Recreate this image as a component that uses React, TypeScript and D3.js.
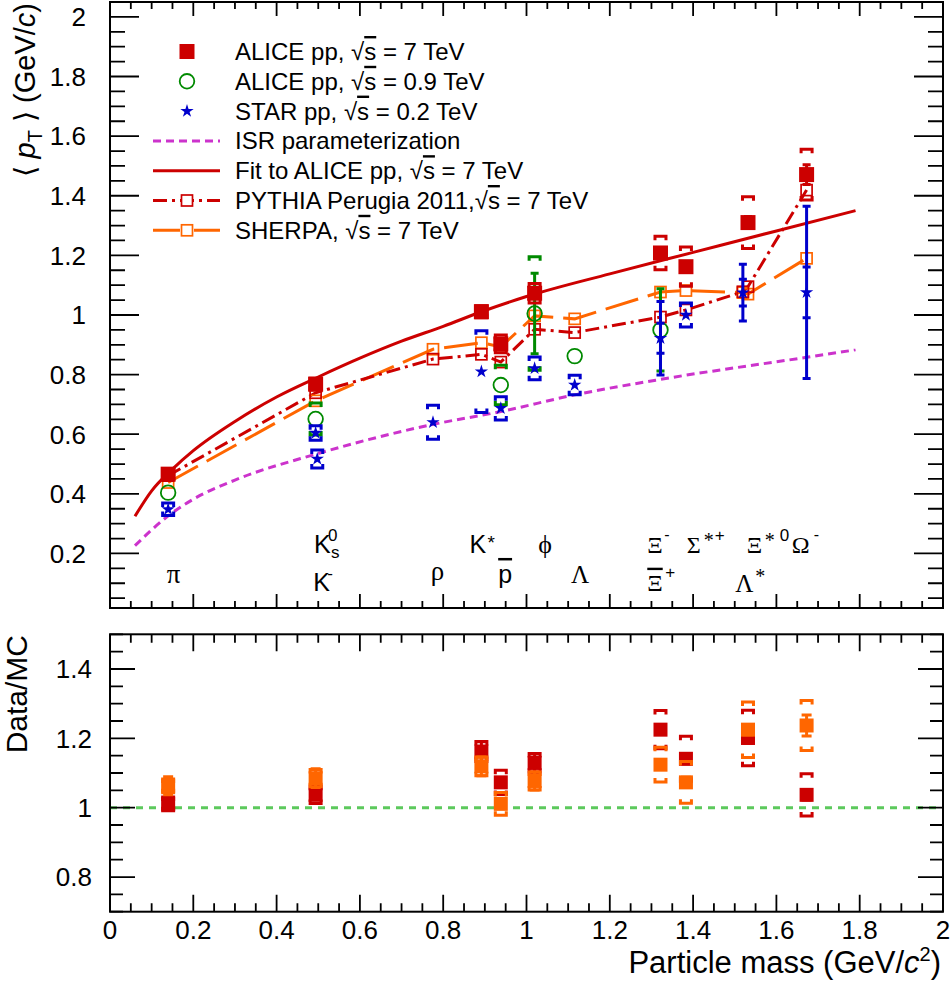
import React from 'react';
import * as d3 from 'd3';

// ---------------- data ----------------
// ALICE pp sqrt(s)=7 TeV
const aliceMass = [0.1396, 0.4937, 0.8917, 0.9383, 1.0195, 1.3217, 1.3828, 1.5318, 1.6725];
const aliceMean = [0.466, 0.768, 1.011, 0.903, 1.073, 1.208, 1.162, 1.31, 1.471];
const aliceStat = [0.004, 0.004, 0.006, 0.006, 0.012, 0.012, 0.015, 0.02, 0.033];
const aliceSys = [0.015, 0.02, 0.02, 0.03, 0.033, 0.056, 0.066, 0.087, 0.085];

// ALICE pp sqrt(s)=0.9 TeV
const alice09Mass = [0.1396, 0.4937, 0.9383, 1.0195, 1.1157, 1.3217];
const alice09Mean = [0.404, 0.651, 0.765, 1.005, 0.862, 0.95];
const alice09Stat = [0.004, 0.01, 0.01, 0.135, 0.01, 0.138];
const alice09Sys = [0, 0.054, 0.066, 0.19, 0, 0];

// STAR pp sqrt(s)=0.2 TeV
const starMass = [0.1396, 0.4937, 0.4976, 0.7755, 0.8917, 0.9383, 1.0195, 1.1157, 1.3217, 1.3828, 1.5195, 1.6725];
const starMean = [0.348, 0.604, 0.517, 0.64, 0.81, 0.687, 0.821, 0.765, 0.922, 1.0, 1.075, 1.076];
const starStat = [0, 0, 0, 0, 0, 0, 0, 0, 0.05, 0, 0.045, 0.085];
const starSys = [0.021, 0.024, 0.03, 0.057, 0.137, 0.039, 0.038, 0.033, 0.123, 0.04, 0.095, 0.289];

// Monte Carlo
const mcMass = [0.1396, 0.4937, 0.7755, 0.8917, 0.9383, 1.0195, 1.1157, 1.3217, 1.3828, 1.5195, 1.5318, 1.6725];
const pythiaMean = [0.461, 0.739, 0.852, 0.868, 0.842, 0.952, 0.941, 0.993, 1.017, 1.078, 1.095, 1.419];
const sherpaMean = [0.438, 0.712, 0.885, 0.907, 0.893, 0.997, 0.987, 1.077, 1.082, 1.075, 1.07, 1.19];

// Curves
const fitMass = [0.06, 0.1, 0.15, 0.2, 0.3, 0.4, 0.5, 0.6, 0.7, 0.8, 0.9, 1.0, 1.2, 1.4, 1.6, 1.79];
const fitMean = [0.325, 0.41, 0.483, 0.545, 0.643, 0.725, 0.792, 0.855, 0.912, 0.962, 1.015, 1.062, 1.138, 1.21, 1.282, 1.35];
const isrMass = [0.06, 0.1396, 0.2, 0.3, 0.4937, 0.7755, 0.9383, 1.1157, 1.3217, 1.6725, 1.79];
const isrMean = [0.226, 0.326, 0.382, 0.446, 0.533, 0.633, 0.676, 0.732, 0.784, 0.858, 0.883];

// Data / MC ratios (at ALICE masses)
const ratioPythia = [1.011, 1.037, 1.162, 1.073, 1.129, 1.225, 1.141, 1.201, 1.037];
const ratioPythiaStat = [0.01, 0.01, 0.028, 0.012, 0.026, 0.012, 0.015, 0.015, 0.015];
const ratioPythiaSys = [0.02, 0.025, 0.029, 0.035, 0.027, 0.055, 0.065, 0.08, 0.061];
const ratioSherpa = [1.063, 1.085, 1.119, 1.011, 1.077, 1.124, 1.073, 1.225, 1.237];
const ratioSherpaStat = [0.026, 0.027, 0.027, 0.012, 0.026, 0.012, 0.015, 0.015, 0.03];
const ratioSherpaSys = [0.02, 0.025, 0.027, 0.033, 0.026, 0.05, 0.06, 0.08, 0.072];

// axis ticks
const xMajor = d3.range(0, 11).map((i) => i * 0.2);
const xMinor = d3.range(0, 41).map((i) => i * 0.05);
const yTopMajor = d3.range(1, 11).map((i) => i * 0.2);
const yTopMinor = d3.range(1, 41).map((i) => i * 0.05);
const yBotMajor = [0.8, 1.0, 1.2, 1.4];
const yBotMinor = d3.range(14, 31).map((i) => i * 0.05);

// ---------------- style ----------------
const SANS = "'Liberation Sans', Arial, Helvetica, sans-serif";
const SERIF = "'Liberation Serif', 'Times New Roman', serif";
const RED = '#cc0000';
const ORANGE = '#ff6600';
const GREEN = '#008a00';
const BLUE = '#0000cc';
const MAGENTA = '#cc33cc';
const LGREEN = '#5cc95c';

const fmt = (v: number) => String(+v.toFixed(2));

function bracket(cx: number, yHi: number, yLo: number, w = 5.5, t = 4) {
  return `M${cx - w},${yHi + t}V${yHi}H${cx + w}V${yHi + t}M${cx - w},${yLo - t}V${yLo}H${cx + w}V${yLo - t}`;
}
function errBar(cx: number, yHi: number, yLo: number, c = 4) {
  return `M${cx},${yHi}V${yLo}M${cx - c},${yHi}H${cx + c}M${cx - c},${yLo}H${cx + c}`;
}

const starPath = d3.symbol().type(d3.symbolStar).size(55)() as string;

function Frame({ x, y, x0, x1, y0, y1, yMajor, yMinor, yMaj, yMin, xMaj, xMin }: any) {
  const ticks: string[] = [];
  xMinor.forEach((v) => {
    const px = x(v);
    const isMaj = xMajor.some((m) => Math.abs(m - v) < 1e-6);
    const L = isMaj ? xMaj : xMin;
    ticks.push(`M${px},${y1}V${y1 - L}M${px},${y0}V${y0 + L}`);
  });
  yMinor.forEach((v: number) => {
    const py = y(v);
    const isMaj = yMajor.some((m: number) => Math.abs(m - v) < 1e-6);
    const L = isMaj ? yMaj : yMin;
    ticks.push(`M${x0},${py}H${x0 + L}M${x1},${py}H${x1 - L}`);
  });
  return (
    <g>
      <path d={ticks.join('')} stroke="#000" strokeWidth={1.8} fill="none" />
      <rect x={x0} y={y0} width={x1 - x0} height={y1 - y0} fill="none" stroke="#000" strokeWidth={2} />
    </g>
  );
}

const Sq = () => (
  <>
    <tspan>√</tspan>
    <tspan style={{ textDecoration: 'overline' }}>s</tspan>
  </>
);

export default function App() {
  const X0 = 110, X1 = 943;
  const x = d3.scaleLinear().domain([0, 2]).range([X0, X1]);
  const yT = d3.scaleLinear().domain([0.017, 2.05]).range([608, 2]);
  const yB = d3.scaleLinear().domain([0.7, 1.5]).range([911.7, 634.3]);

  const lineT = d3.line<[number, number]>().x((d) => x(d[0])).y((d) => yT(d[1]));
  const curveT = d3.line<[number, number]>().x((d) => x(d[0])).y((d) => yT(d[1])).curve(d3.curveMonotoneX);

  const fitPts = fitMass.map((m, i) => [m, fitMean[i]] as [number, number]);
  const isrPts = isrMass.map((m, i) => [m, isrMean[i]] as [number, number]);
  const pyPts = mcMass.map((m, i) => [m, pythiaMean[i]] as [number, number]);
  const shPts = mcMass.map((m, i) => [m, sherpaMean[i]] as [number, number]);

  const S = 15; // filled square size
  const OS = 11; // open square size

  // legend rows
  const legX = 235, legM = 187, legL0 = 153, legL1 = 220;
  const rowBase = (i: number) => 60 + i * 29.8;
  const rowMid = (i: number) => rowBase(i) - 8.5;

  const yA = yT(0.2);
  const kx = x(0.49), km = x(0.488), kbY = yT(0.074);
  const xiX = x(1.29), xiB = yT(0.075);
  const sgX = x(1.385), x0X = x(1.529), omX = x(1.637), lsX = x(1.501), lsY = yT(0.072);

  return (
    <svg width={950} height={982} style={{ position: 'absolute', left: 0, top: 0, background: '#fff' }}
      fontFamily={SANS}>
      <rect x={0} y={0} width={950} height={982} fill="#fff" />
      <defs>
        <clipPath id="clipT"><rect x={X0} y={2} width={X1 - X0} height={606} /></clipPath>
        <clipPath id="clipB"><rect x={X0} y={634.3} width={X1 - X0} height={277.4} /></clipPath>
      </defs>

      {/* ================= upper panel ================= */}
      <g clipPath="url(#clipT)">
        <path d={curveT(isrPts) as string} fill="none" stroke={MAGENTA} strokeWidth={3} strokeDasharray="8 5" />
        <path d={curveT(fitPts) as string} fill="none" stroke={RED} strokeWidth={3} />
        <path d={lineT(shPts) as string} fill="none" stroke={ORANGE} strokeWidth={3} strokeDasharray="34 10" />
        <path d={lineT(pyPts) as string} fill="none" stroke={RED} strokeWidth={3} strokeDasharray="14 5 3 5" />
        {shPts.map((d, i) => (
          <rect key={'sh' + i} x={x(d[0]) - OS / 2} y={yT(d[1]) - OS / 2} width={OS} height={OS}
            fill="none" stroke={ORANGE} strokeWidth={1.7} />
        ))}
        {pyPts.map((d, i) => (
          <rect key={'py' + i} x={x(d[0]) - OS / 2} y={yT(d[1]) - OS / 2} width={OS} height={OS}
            fill="none" stroke={RED} strokeWidth={1.7} />
        ))}

        {/* ALICE 0.9 TeV */}
        {alice09Mass.map((m, i) => {
          const cx = x(m), v = alice09Mean[i];
          return (
            <g key={'g' + i}>
              {alice09Stat[i] > 0.02 && (
                <path d={errBar(cx, yT(v + alice09Stat[i]), yT(v - alice09Stat[i]))} stroke={GREEN} strokeWidth={3} fill="none" />
              )}
              {alice09Sys[i] > 0 && (
                <path d={bracket(cx, yT(v + alice09Sys[i]), yT(v - alice09Sys[i]))} stroke={GREEN} strokeWidth={3} fill="none" />
              )}
              <circle cx={cx} cy={yT(v)} r={7.3} fill="none" stroke={GREEN} strokeWidth={1.8} />
            </g>
          );
        })}

        {/* STAR */}
        {starMass.map((m, i) => {
          const cx = x(m), v = starMean[i];
          const hasStat = starStat[i] > 0;
          return (
            <g key={'s' + i}>
              {hasStat ? (
                <>
                  <path d={errBar(cx, yT(v + starSys[i]), yT(v - starSys[i]), 4)} stroke={BLUE} strokeWidth={3} fill="none" />
                  <path d={`M${cx - 4},${yT(v + starStat[i])}H${cx + 4}M${cx - 4},${yT(v - starStat[i])}H${cx + 4}`} stroke={BLUE} strokeWidth={3} />
                </>
              ) : (
                <path d={bracket(cx, yT(v + starSys[i]), yT(v - starSys[i]))} stroke={BLUE} strokeWidth={3} fill="none" />
              )}
              <path d={starPath} transform={`translate(${cx},${yT(v)})`} fill={BLUE} />
            </g>
          );
        })}

        {/* ALICE 7 TeV */}
        {aliceMass.map((m, i) => {
          const cx = x(m), v = aliceMean[i];
          return (
            <g key={'a' + i}>
              <path d={bracket(cx, yT(v + aliceSys[i]), yT(v - aliceSys[i]))} stroke={RED} strokeWidth={3} fill="none" />
              <path d={errBar(cx, yT(v + aliceStat[i]), yT(v - aliceStat[i]), 4)} stroke={RED} strokeWidth={3} fill="none" />
              <rect x={cx - S / 2} y={yT(v) - S / 2} width={S} height={S} fill={RED} />
            </g>
          );
        })}
      </g>

      <Frame x={x} y={yT} x0={X0} x1={X1} y0={2} y1={608} yMajor={yTopMajor} yMinor={yTopMinor}
        yMaj={29} yMin={15} xMaj={14} xMin={7} />

      {/* upper y tick labels */}
      {yTopMajor.map((v) => (
        <text key={'yt' + v} x={86} y={yT(v)} dy="0.36em" textAnchor="end" fontSize={26}>{fmt(v)}</text>
      ))}

      {/* upper y title */}
      <text transform="translate(35,3) rotate(-90)" textAnchor="end" fontSize={29}>
        {'⟨ '}<tspan fontStyle="italic">p</tspan><tspan fontSize={20} dy={7}>T</tspan>
        <tspan dy={-7}>{' ⟩ (GeV/'}</tspan><tspan fontStyle="italic">c</tspan>)
      </text>

      {/* particle labels */}
      <g fontSize={25}>
        <text x={x(0.136)} y={yT(0.1)} fontFamily={SERIF} fontSize={27}>π</text>

        <text x={kx} y={yA}>K
          <tspan x={kx + 14} y={yA - 12} fontSize={17}>0</tspan>
          <tspan x={kx + 17} y={yA + 5} fontSize={17}>s</tspan>
        </text>

        <text x={km} y={kbY}>K<tspan x={km + 14} y={kbY - 12} fontSize={17}>-</tspan></text>

        <text x={x(0.77)} y={yT(0.111)} fontFamily={SERIF} fontSize={27}>ρ</text>

        <text x={x(0.863)} y={yA}>K<tspan x={x(0.863) + 18} y={yA - 4} fontSize={19}>*</tspan></text>

        <text x={x(0.932)} y={yT(0.101)} style={{ textDecoration: 'overline' }}>p</text>

        <text x={x(1.028)} y={yA} fontFamily={SERIF} fontSize={26}>ϕ</text>

        <text x={x(1.107)} y={yT(0.1)} fontFamily={SERIF} fontSize={25}>Λ</text>

        <text x={xiX} y={yA} fontFamily={SERIF} fontSize={24}>Ξ
          <tspan x={xiX + 17} y={yA - 13} fontFamily={SANS} fontSize={16}>-</tspan>
        </text>

        <text x={xiX} y={xiB} fontFamily={SERIF} fontSize={24}>
          <tspan style={{ textDecoration: 'overline' }}>Ξ</tspan>
          <tspan x={xiX + 18} y={xiB - 13} fontFamily={SANS} fontSize={17}>+</tspan>
        </text>

        <text x={sgX} y={yA} fontFamily={SERIF} fontSize={24}>Σ
          <tspan x={sgX + 17} y={yA - 6} fontSize={20}>*</tspan>
          <tspan x={sgX + 28} y={yA - 12} fontFamily={SANS} fontSize={17}>+</tspan>
        </text>

        <text x={x0X} y={yA} fontFamily={SERIF} fontSize={24}>Ξ
          <tspan x={x0X + 18} y={yA - 6} fontSize={20}>*</tspan>
          <tspan x={x0X + 33} y={yA - 12} fontFamily={SANS} fontSize={17}>0</tspan>
        </text>

        <text x={omX} y={yA} fontFamily={SERIF} fontSize={24}>Ω
          <tspan x={omX + 22} y={yA - 13} fontFamily={SANS} fontSize={16}>-</tspan>
        </text>

        <text x={lsX} y={lsY} fontFamily={SERIF} fontSize={25}>Λ
          <tspan x={lsX + 20} y={lsY - 9} fontSize={20}>*</tspan>
        </text>
      </g>

      {/* legend */}
      <g fontSize={24}>
        <rect x={legM - S / 2} y={rowMid(0) - S / 2} width={S} height={S} fill={RED} />
        <text x={legX} y={rowBase(0)}>{'ALICE pp, '}<Sq />{' = 7 TeV'}</text>

        <circle cx={legM} cy={rowMid(1)} r={7.3} fill="none" stroke={GREEN} strokeWidth={1.8} />
        <text x={legX} y={rowBase(1)}>{'ALICE pp, '}<Sq />{' = 0.9 TeV'}</text>

        <path d={starPath} transform={`translate(${legM},${rowMid(2)})`} fill={BLUE} />
        <text x={legX} y={rowBase(2)}>{'STAR pp, '}<Sq />{' = 0.2 TeV'}</text>

        <path d={`M${legL0},${rowMid(3)}H${legL1}`} stroke={MAGENTA} strokeWidth={3} strokeDasharray="8 5" />
        <text x={legX} y={rowBase(3)}>ISR parameterization</text>

        <path d={`M${legL0},${rowMid(4)}H${legL1}`} stroke={RED} strokeWidth={3} />
        <text x={legX} y={rowBase(4)}>{'Fit to ALICE pp, '}<Sq />{' = 7 TeV'}</text>

        <path d={`M${legL0},${rowMid(5)}H${legL1}`} stroke={RED} strokeWidth={3} strokeDasharray="14 5 3 5" />
        <rect x={legM - OS / 2} y={rowMid(5) - OS / 2} width={OS} height={OS} fill="#fff" stroke={RED} strokeWidth={1.7} />
        <text x={legX} y={rowBase(5)}>{'PYTHIA Perugia 2011,'}<Sq />{' = 7 TeV'}</text>

        <path d={`M${legL0},${rowMid(6)}H${legL1}`} stroke={ORANGE} strokeWidth={3} strokeDasharray="27 14" />
        <rect x={legM - OS / 2} y={rowMid(6) - OS / 2} width={OS} height={OS} fill="#fff" stroke={ORANGE} strokeWidth={1.7} />
        <text x={legX} y={rowBase(6)}>{'SHERPA, '}<Sq />{' = 7 TeV'}</text>
      </g>

      {/* ================= lower panel ================= */}
      <g clipPath="url(#clipB)">
        <path d={`M${x(0)},${yB(1)}H${x(2)}`} stroke={LGREEN} strokeWidth={3} strokeDasharray="7 6" />
        {aliceMass.map((m, i) => {
          const cx = x(m), v = ratioPythia[i];
          return (
            <g key={'rp' + i}>
              <path d={bracket(cx, yB(v + ratioPythiaSys[i]), yB(v - ratioPythiaSys[i]))} stroke={RED} strokeWidth={3} fill="none" />
              <path d={errBar(cx, yB(v + ratioPythiaStat[i]), yB(v - ratioPythiaStat[i]), 5)} stroke={RED} strokeWidth={3} fill="none" />
              <rect x={cx - 7} y={yB(v) - 7} width={14} height={14} fill={RED} />
            </g>
          );
        })}
        {aliceMass.map((m, i) => {
          const cx = x(m), v = ratioSherpa[i];
          return (
            <g key={'rs' + i}>
              <path d={bracket(cx, yB(v + ratioSherpaSys[i]), yB(v - ratioSherpaSys[i]))} stroke={ORANGE} strokeWidth={3} fill="none" />
              <path d={errBar(cx, yB(v + ratioSherpaStat[i]), yB(v - ratioSherpaStat[i]), 5)} stroke={ORANGE} strokeWidth={3} fill="none" />
              <rect x={cx - 7} y={yB(v) - 7} width={14} height={14} fill={ORANGE} />
            </g>
          );
        })}
      </g>

      <Frame x={x} y={yB} x0={X0} x1={X1} y0={634.3} y1={911.7} yMajor={yBotMajor} yMinor={yBotMinor}
        yMaj={25} yMin={13} xMaj={17} xMin={8.5} />

      {yBotMajor.map((v) => (
        <text key={'yb' + v} x={92} y={yB(v)} dy="0.36em" textAnchor="end" fontSize={26}>{fmt(v)}</text>
      ))}
      {xMajor.map((v) => (
        <text key={'xb' + v} x={x(v)} y={939} textAnchor="middle" fontSize={26}>{fmt(v)}</text>
      ))}

      <text transform="translate(27,635) rotate(-90)" textAnchor="end" fontSize={30}>Data/MC</text>

      <text x={941} y={973} textAnchor="end" fontSize={31}>
        {'Particle mass (GeV/'}<tspan fontStyle="italic">c</tspan>
        <tspan fontSize={20} dy={-12}>2</tspan><tspan dy={12}>)</tspan>
      </text>
    </svg>
  );
}
